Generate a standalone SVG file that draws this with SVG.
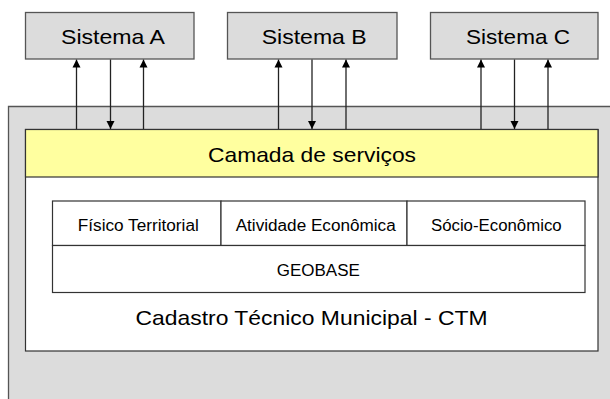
<svg xmlns="http://www.w3.org/2000/svg" width="610" height="399" viewBox="0 0 610 399">
<defs>
<marker id="ah" viewBox="0 0 8 12" refX="8" refY="6" markerWidth="8" markerHeight="12" markerUnits="userSpaceOnUse" orient="auto">
<path d="M0,2 L8,6 L0,10 z" fill="#000"/>
</marker>
<style>
.sys{fill:#dcdcdc;stroke:#555;stroke-width:1.3}
.t{font-family:"Liberation Sans",Arial,sans-serif;fill:#000;text-anchor:middle}
.big{font-size:21px}
.sm{font-size:16px}
.c{stroke:#222;stroke-width:1.3;fill:none;marker-end:url(#ah)}
.cell{fill:#fff;stroke:#333;stroke-width:1.2}
</style>
</defs>
<rect width="610" height="399" fill="#fff"/>
<g id="outer">
<rect x="8.5" y="106.5" width="601.5" height="292.5" fill="#dcdcdc"/>
<path d="M8.5,399 V106.5 H610" fill="none" stroke="#555" stroke-width="1.3"/>
</g>
<g id="ctm">
<rect x="25.5" y="129.5" width="572.5" height="221.5" fill="#fff" stroke="#333" stroke-width="1.2"/>
<text class="t big" x="311.5" y="325" textLength="352" lengthAdjust="spacingAndGlyphs">Cadastro Técnico Municipal - CTM</text>
</g>
<g id="camada">
<rect x="25.5" y="129.5" width="572.5" height="47.5" fill="#ffff9f" stroke="#333" stroke-width="1.2"/>
<text class="t big" x="312" y="162" textLength="208" lengthAdjust="spacingAndGlyphs">Camada de serviços</text>
</g>
<g id="fisico">
<rect class="cell" x="52.5" y="201" width="168.5" height="44.5"/>
<text class="t sm" x="138.3" y="230.7" textLength="121" lengthAdjust="spacingAndGlyphs">Físico Territorial</text>
</g>
<g id="atividade">
<rect class="cell" x="221" y="201" width="186" height="44.5"/>
<text class="t sm" x="315.7" y="230.7" textLength="160" lengthAdjust="spacingAndGlyphs">Atividade Econômica</text>
</g>
<g id="socio">
<rect class="cell" x="407" y="201" width="178" height="44.5"/>
<text class="t sm" x="496.3" y="230.7" textLength="130.7" lengthAdjust="spacingAndGlyphs">Sócio-Econômico</text>
</g>
<g id="geobase">
<rect class="cell" x="52.5" y="245.5" width="532.5" height="47"/>
<text class="t sm" x="318.3" y="275.6" textLength="83" lengthAdjust="spacingAndGlyphs">GEOBASE</text>
</g>
<g id="sistemaA">
<rect class="sys" x="25.5" y="12.5" width="168.5" height="46.5"/>
<text class="t big" x="113" y="44" textLength="104" lengthAdjust="spacingAndGlyphs">Sistema A</text>
</g>
<g id="sistemaB">
<rect class="sys" x="227.5" y="12.5" width="169.5" height="46.5"/>
<text class="t big" x="314.2" y="44" textLength="105" lengthAdjust="spacingAndGlyphs">Sistema B</text>
</g>
<g id="sistemaC">
<rect class="sys" x="430.5" y="12.5" width="167.5" height="46.5"/>
<text class="t big" x="518" y="44" textLength="104" lengthAdjust="spacingAndGlyphs">Sistema C</text>
</g>
<g id="connectors">
<line class="c" x1="76.5" y1="129" x2="76.5" y2="59.5"/>
<line class="c" x1="110.5" y1="59.5" x2="110.5" y2="129"/>
<line class="c" x1="143.5" y1="129" x2="143.5" y2="59.5"/>
<line class="c" x1="278.5" y1="129" x2="278.5" y2="59.5"/>
<line class="c" x1="312" y1="59.5" x2="312" y2="129"/>
<line class="c" x1="346" y1="129" x2="346" y2="59.5"/>
<line class="c" x1="481" y1="129" x2="481" y2="59.5"/>
<line class="c" x1="514.5" y1="59.5" x2="514.5" y2="129"/>
<line class="c" x1="548" y1="129" x2="548" y2="59.5"/>
</g>
</svg>
